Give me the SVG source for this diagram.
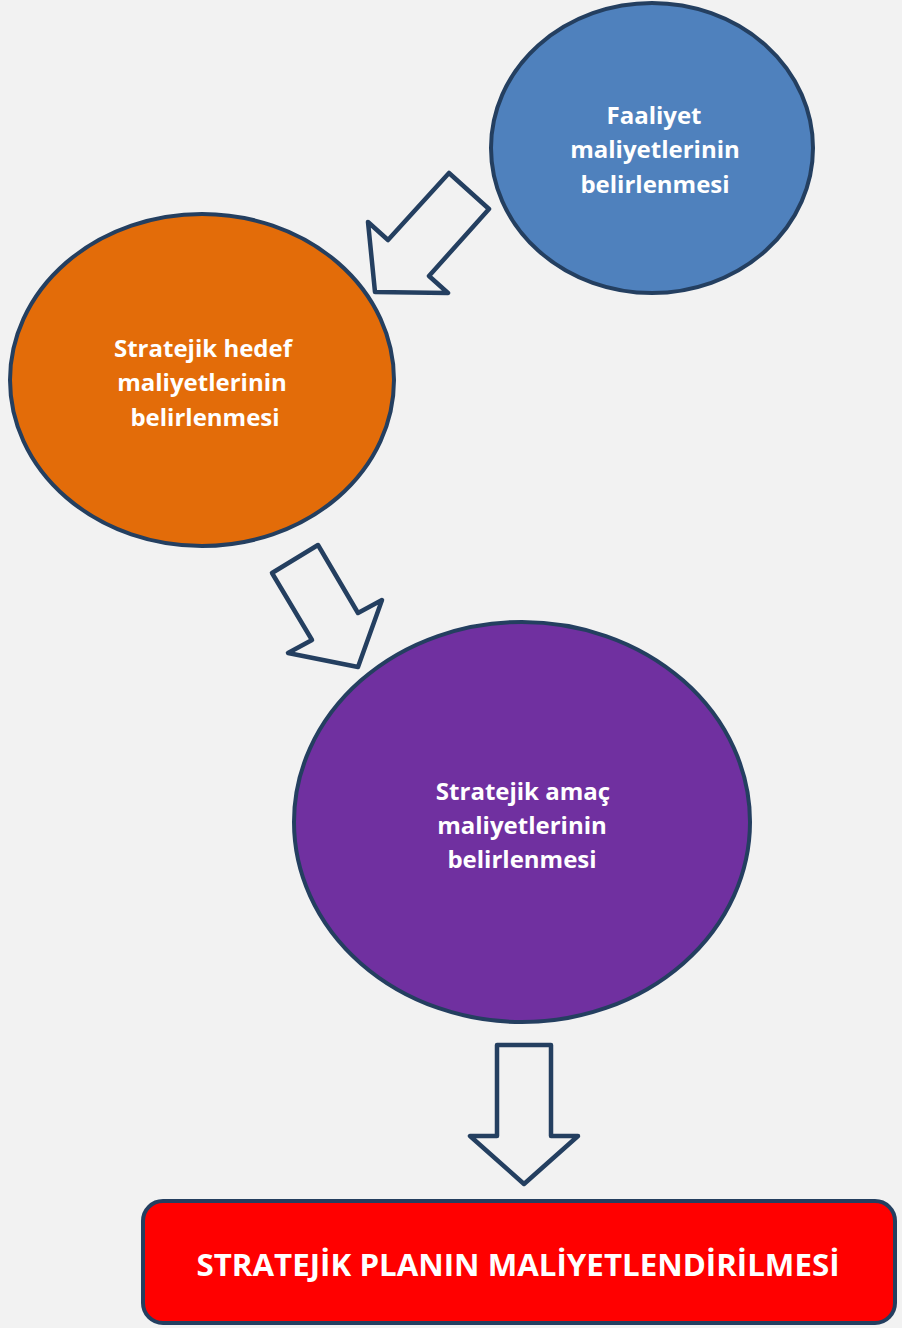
<svg xmlns="http://www.w3.org/2000/svg" width="902" height="1328" viewBox="0 0 902 1328">
<style>
.shape{stroke:#243f60;stroke-width:4;stroke-linejoin:round}
.arrow{fill:#f2f2f2;stroke:#243f60;stroke-width:4.5;stroke-linejoin:round}
.lbl{font-family:"Open Sans","Liberation Sans",sans-serif;font-weight:bold;font-size:24px;fill:#ffffff;text-anchor:middle}
.title{font-family:"Open Sans","Liberation Sans",sans-serif;font-weight:bold;font-size:31px;fill:#ffffff;text-anchor:middle}
</style>
<rect x="0" y="0" width="902" height="1328" fill="#f2f2f2"/>
<g id="n-faaliyet">
<ellipse class="shape" cx="652" cy="148" rx="161" ry="145" fill="#4f81bd"/>
<text class="lbl" x="654" y="124">Faaliyet</text>
<text class="lbl" x="655" y="158">maliyetlerinin</text>
<text class="lbl" x="655" y="193">belirlenmesi</text>
</g>
<g id="n-hedef">
<ellipse class="shape" cx="202" cy="380" rx="192" ry="166" fill="#e36c09"/>
<text class="lbl" x="203" y="357">Stratejik hedef</text>
<text class="lbl" x="202" y="391">maliyetlerinin</text>
<text class="lbl" x="205" y="426">belirlenmesi</text>
</g>
<g id="n-amac">
<ellipse class="shape" cx="522" cy="822" rx="228" ry="200" fill="#7030a0"/>
<text class="lbl" x="523" y="800">Stratejik amaç</text>
<text class="lbl" x="522" y="834">maliyetlerinin</text>
<text class="lbl" x="522" y="868">belirlenmesi</text>
</g>
<g id="n-plan">
<rect class="shape" x="143" y="1201" width="752" height="122" rx="20" ry="20" fill="#ff0000"/>
<text class="title" x="518" y="1276" textLength="643" lengthAdjust="spacingAndGlyphs">STRATEJİK PLANIN MALİYETLENDİRİLMESİ</text>
</g>
<g id="connectors">
<path class="arrow" d="M449,173 L489,209 L429,276 L448,293 L375,292 L368,222 L388,240 Z"/>
<path class="arrow" d="M318,545 L272,573 L312,640 L288,653 L358,667 L382,600 L358,613 Z"/>
<path class="arrow" d="M497,1045 L551,1045 L551,1136 L578,1136 L524,1184 L470,1136 L497,1136 Z"/>
</g>
</svg>
